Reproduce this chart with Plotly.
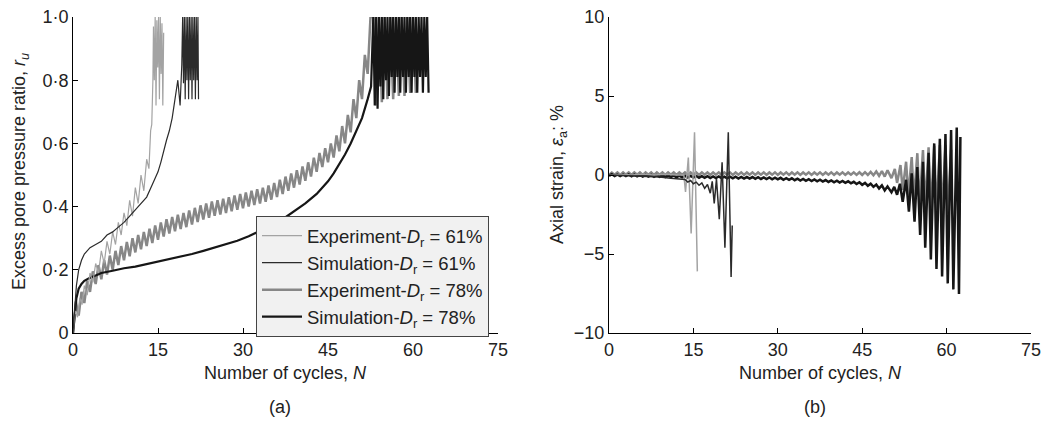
import plotly.graph_objects as go

# ---------------- Panel (a): excess pore pressure ratio ----------------
# Experiment, Dr = 61 %
a_exp61_N = [0, 0.4, 0.8, 1.2, 1.6, 2.0, 2.5, 3.0, 3.5, 4.0, 4.5, 5.0, 5.5, 6.0, 6.5, 7.0, 7.5,
             8.0, 8.5, 9.0, 9.5, 10.0, 10.5, 11.0, 11.5, 12.0, 12.5, 13.0, 13.4, 13.7, 13.9, 14.1,
             14.2, 14.35, 14.5, 14.65, 14.8, 14.95, 15.1, 15.25, 15.4, 15.55, 15.7, 15.85, 16.0]
a_exp61_ru = [0, 0.07, 0.05, 0.11, 0.09, 0.15, 0.12, 0.19, 0.16, 0.22, 0.19, 0.26, 0.22, 0.29, 0.25,
              0.32, 0.28, 0.35, 0.31, 0.38, 0.34, 0.42, 0.37, 0.46, 0.41, 0.50, 0.45, 0.55, 0.52, 0.64,
              0.66, 0.80, 0.97, 0.80, 1.0, 0.72, 0.99, 0.84, 1.0, 0.74, 1.0, 0.82, 0.98, 0.72, 0.95]

# Simulation, Dr = 61 %
a_sim61_N = [0, 0.3, 0.6, 1.0, 1.5, 2, 3, 4, 5, 6, 7, 8, 9, 10, 11, 12, 13, 14, 15, 15.5, 16, 16.5,
             17, 17.5, 18, 18.5, 18.9, 19.2, 19.35, 19.5, 19.65, 19.8, 19.95, 20.1, 20.25, 20.4,
             20.55, 20.7, 20.85, 21.0, 21.15, 21.3, 21.45, 21.6, 21.75, 21.9, 22.05, 22.15]
a_sim61_ru = [0, 0.09, 0.15, 0.20, 0.23, 0.25, 0.27, 0.28, 0.29, 0.31, 0.32, 0.335, 0.35, 0.37, 0.39,
              0.41, 0.43, 0.47, 0.51, 0.54, 0.58, 0.61, 0.64, 0.68, 0.74, 0.80, 0.72, 0.85, 1.0, 0.79,
              1.0, 0.74, 1.0, 0.80, 1.0, 0.74, 1.0, 0.80, 1.0, 0.74, 1.0, 0.80, 1.0, 0.74, 1.0, 0.80,
              1.0, 0.74]

# Experiment, Dr = 78 %  (per-cycle trough at N, crest at N + 0.5)
a_exp78_cycles = list(range(0, 53))
a_exp78_trough = [0.0, 0.055, 0.095, 0.13, 0.155, 0.17, 0.185, 0.20, 0.215, 0.23, 0.243, 0.255, 0.265,
                  0.275, 0.285, 0.295, 0.305, 0.315, 0.322, 0.329, 0.335, 0.343, 0.351, 0.359, 0.365,
                  0.371, 0.375, 0.38, 0.385, 0.39, 0.395, 0.40, 0.405, 0.41, 0.415, 0.422, 0.43, 0.44,
                  0.45, 0.46, 0.47, 0.482, 0.495, 0.51, 0.525, 0.54, 0.555, 0.575, 0.60, 0.635, 0.68,
                  0.74, 0.82]
a_exp78_crest = [0.10, 0.13, 0.165, 0.195, 0.215, 0.23, 0.245, 0.26, 0.275, 0.288, 0.30, 0.31, 0.32,
                 0.33, 0.34, 0.35, 0.36, 0.367, 0.374, 0.38, 0.388, 0.396, 0.404, 0.41, 0.416, 0.42,
                 0.425, 0.43, 0.435, 0.44, 0.445, 0.45, 0.455, 0.46, 0.467, 0.475, 0.485, 0.495, 0.505,
                 0.515, 0.527, 0.54, 0.555, 0.57, 0.585, 0.60, 0.625, 0.655, 0.69, 0.74, 0.80, 0.88,
                 1.0]
# liquefied stage of the 78 % test (peak at N, dip at N + 0.5)
a_exp78_fail_cycles = [53, 54, 55, 56, 57, 58, 59, 60]
a_exp78_fail_peak = [1.0, 1.0, 1.0, 1.0, 1.0, 1.0, 1.0, 1.0]
a_exp78_fail_dip = [0.72, 0.73, 0.74, 0.74, 0.75, 0.75, 0.76, 0.76]

# Simulation, Dr = 78 %
a_sim78_N = [0, 0.3, 0.6, 1, 1.5, 2, 3, 4, 5, 7, 9, 11, 13, 15, 17, 19, 21, 23, 25, 27, 29, 31, 33,
             35, 37, 39, 41, 43, 45, 46, 47, 48, 49, 50, 51, 52, 52.6]
a_sim78_ru = [0, 0.07, 0.11, 0.14, 0.155, 0.165, 0.175, 0.182, 0.19, 0.197, 0.205, 0.21, 0.218,
              0.225, 0.232, 0.24, 0.25, 0.26, 0.27, 0.28, 0.292, 0.306, 0.322, 0.34, 0.36, 0.385,
              0.41, 0.44, 0.48, 0.505, 0.535, 0.565, 0.60, 0.64, 0.68, 0.74, 0.78]
# liquefied stage (1.0 at N, dip1 at N+0.25, 1.0 at N+0.5, dip2 at N+0.75)
a_sim78_fail_cycles = [53, 54, 55, 56, 57, 58, 59, 60, 61, 62]
a_sim78_fail_dip1 = [0.72, 0.78, 0.80, 0.81, 0.81, 0.81, 0.81, 0.81, 0.81, 0.81]
a_sim78_fail_dip2 = [0.71, 0.74, 0.75, 0.76, 0.76, 0.76, 0.76, 0.76, 0.76, 0.76]

# ---------------- Panel (b): axial strain ----------------
b_exp61_N = [0, 2, 4, 6, 8, 10, 12, 13.3, 13.6, 14.1, 14.6, 15.2, 15.7]
b_exp61_eps = [0.0, 0.05, 0.0, 0.05, 0.0, 0.05, 0.0, 0.0, -1.07, 1.1, -3.7, 2.7, -6.1]

b_sim61_N = [0, 3, 6, 9, 11, 12, 13, 13.5, 14, 14.5, 15, 15.5, 16, 16.5, 17, 17.5, 18, 18.35,
             18.7, 19.1, 19.6, 20.1, 20.6, 21.2, 21.7, 21.9]
b_sim61_eps = [0, -0.03, -0.08, -0.12, -0.2, -0.25, -0.3, -0.28, -0.45, -0.35, -0.55, -0.45, -0.65,
               -0.5, -0.85, -0.6, -1.15, -0.4, -1.8, -0.25, -2.8, 0.8, -4.6, 2.7, -6.45, -3.2]

# Experiment 78 %: small cyclic ripple (low at N, high at N + 0.5) then growing cycles
b_exp78_cycles = list(range(0, 50))
b_exp78_low = [0.00, 0.02, 0.01, 0.02, 0.01, 0.02, 0.01, 0.02, 0.01, 0.02,
               0.01, 0.02, 0.01, 0.02, 0.01, 0.02, 0.01, 0.02, 0.01, 0.02,
               0.01, 0.02, 0.01, 0.02, 0.01, 0.02, 0.01, 0.02, 0.01, 0.02,
               0.01, 0.02, 0.01, 0.02, 0.01, 0.02, 0.01, 0.02, 0.01, 0.02,
               0.01, 0.02, 0.01, 0.02, 0.01, 0.00, 0.00, -0.02, -0.05, -0.1]
b_exp78_high = [0.15, 0.16, 0.16, 0.17, 0.16, 0.17, 0.16, 0.17, 0.16, 0.17,
                0.16, 0.17, 0.16, 0.17, 0.16, 0.17, 0.16, 0.17, 0.16, 0.17,
                0.16, 0.17, 0.16, 0.17, 0.16, 0.17, 0.16, 0.17, 0.16, 0.17,
                0.16, 0.17, 0.16, 0.17, 0.16, 0.17, 0.16, 0.17, 0.16, 0.17,
                0.16, 0.17, 0.16, 0.17, 0.17, 0.18, 0.20, 0.22, 0.25, 0.3]
b_exp78_grow_trough_N = [50.2, 51.2, 52.2, 53.2, 54.2, 55.2, 56.2, 57.2, 58.2, 59.2, 60.2]
b_exp78_grow_trough = [-0.2, -0.5, -0.95, -1.3, -1.6, -1.9, -2.1, -2.3, -2.4, -2.5, -2.5]
b_exp78_grow_peak_N = [50.8, 51.8, 52.8, 53.8, 54.8, 55.8, 56.8, 57.8, 58.8, 59.8, 60.8]
b_exp78_grow_peak = [0.38, 0.63, 0.84, 1.14, 1.38, 1.58, 1.75, 1.85, 1.9, 1.9, 1.6]

# Simulation 78 %: slow drift with ripple then growing cycles
b_sim78_cycles = list(range(0, 50))
b_sim78_low = [-0.05, -0.06, -0.07, -0.07, -0.08, -0.09, -0.10, -0.10, -0.11, -0.12,
               -0.13, -0.13, -0.14, -0.15, -0.16, -0.16, -0.17, -0.18, -0.19, -0.19,
               -0.20, -0.21, -0.21, -0.22, -0.23, -0.23, -0.24, -0.25, -0.26, -0.27,
               -0.28, -0.30, -0.31, -0.33, -0.35, -0.37, -0.38, -0.40, -0.42, -0.44,
               -0.46, -0.48, -0.50, -0.53, -0.57, -0.62, -0.68, -0.75, -0.85, -0.98]
b_sim78_high = [0.05, 0.04, 0.03, 0.03, 0.02, 0.01, 0.00, 0.00, -0.01, -0.02,
                -0.03, -0.03, -0.04, -0.05, -0.06, -0.06, -0.07, -0.08, -0.09, -0.09,
                -0.10, -0.11, -0.11, -0.12, -0.13, -0.13, -0.14, -0.15, -0.16, -0.17,
                -0.18, -0.20, -0.21, -0.23, -0.25, -0.27, -0.28, -0.30, -0.32, -0.34,
                -0.36, -0.38, -0.40, -0.43, -0.46, -0.50, -0.55, -0.60, -0.66, -0.72]
b_sim78_grow_trough_N = [50.2, 51.2, 52.2, 53.3, 54.3, 55.3, 56.2, 57.2, 58.2, 59.2, 60.2, 61.2, 62.2]
b_sim78_grow_trough = [-1.1, -1.25, -1.69, -2.32, -2.95, -3.8, -4.6, -5.34, -5.95, -6.43, -6.86, -7.24, -7.53]
b_sim78_grow_peak_N = [50.7, 51.7, 52.8, 53.8, 54.8, 55.8, 56.8, 57.8, 58.8, 59.8, 60.8, 61.8, 62.45]
b_sim78_grow_peak = [-0.75, -0.55, -0.3, 0.1, 0.5, 0.84, 1.4, 2.0, 2.3, 2.6, 2.85, 3.0, 2.4]

x_ticks = [0, 15, 30, 45, 60, 75]
a_yticks = [0, 0.2, 0.4, 0.6, 0.8, 1.0]
a_yticklabels = ["0", "0·2", "0·4", "0·6", "0·8", "1·0"]
b_yticks = [-10, -5, 0, 5, 10]
b_yticklabels = ["\u221210", "\u22125", "0", "5", "10"]

legend_names = ["Experiment-<i>D</i><sub>r</sub> = 61%", "Simulation-<i>D</i><sub>r</sub> = 61%",
                "Experiment-<i>D</i><sub>r</sub> = 78%", "Simulation-<i>D</i><sub>r</sub> = 78%"]


# ---------- helpers that only arrange the read values into a drawing path ----------
def ripple(cycles, first, second, shift=0.5):
    xs, ys = [], []
    for c, f, s in zip(cycles, first, second):
        xs += [c, c + shift]
        ys += [f, s]
    return xs, ys


def merge(ax, ay, bx, by):
    pts = sorted(list(zip(ax, ay)) + list(zip(bx, by)))
    return [p[0] for p in pts], [p[1] for p in pts]


def fail4(cycles, d1, d2):
    xs, ys = [], []
    for c, a, b in zip(cycles, d1, d2):
        xs += [c, c + 0.25, c + 0.5, c + 0.75]
        ys += [1.0, a, 1.0, b]
    return xs, ys


C_EXP61 = "#a3a3a3"
C_SIM61 = "#2b2b2b"
C_EXP78 = "#878787"
C_SIM78 = "#161616"

fig = go.Figure()

# ----- panel (a) -----
ex, ey = ripple(a_exp78_cycles, a_exp78_trough, a_exp78_crest)
fx, fy = ripple(a_exp78_fail_cycles, a_exp78_fail_peak, a_exp78_fail_dip)
fig.add_trace(go.Scatter(x=ex + fx, y=ey + fy, mode="lines", name=legend_names[2],
                         line=dict(color=C_EXP78, width=2.5), legendgroup="c", legendrank=3,
                         xaxis="x", yaxis="y"))
sx, sy = fail4(a_sim78_fail_cycles, a_sim78_fail_dip1, a_sim78_fail_dip2)
fig.add_trace(go.Scatter(x=a_sim78_N + sx, y=a_sim78_ru + sy, mode="lines", name=legend_names[3],
                         line=dict(color=C_SIM78, width=2.2), legendgroup="d", legendrank=4,
                         xaxis="x", yaxis="y"))
fig.add_trace(go.Scatter(x=a_exp61_N, y=a_exp61_ru, mode="lines", name=legend_names[0],
                         line=dict(color=C_EXP61, width=1.2), legendgroup="a", legendrank=1,
                         xaxis="x", yaxis="y"))
fig.add_trace(go.Scatter(x=a_sim61_N, y=a_sim61_ru, mode="lines", name=legend_names[1],
                         line=dict(color=C_SIM61, width=1.2), legendgroup="b", legendrank=2,
                         xaxis="x", yaxis="y"))

# ----- panel (b) -----
gx, gy = ripple(b_exp78_cycles, b_exp78_low, b_exp78_high)
hx, hy = merge(b_exp78_grow_trough_N, b_exp78_grow_trough, b_exp78_grow_peak_N, b_exp78_grow_peak)
fig.add_trace(go.Scatter(x=gx + hx, y=gy + hy, mode="lines", showlegend=False,
                         line=dict(color=C_EXP78, width=2.5), xaxis="x2", yaxis="y2"))
kx, ky = ripple(b_sim78_cycles, b_sim78_low, b_sim78_high)
mx, my = merge(b_sim78_grow_trough_N, b_sim78_grow_trough, b_sim78_grow_peak_N, b_sim78_grow_peak)
fig.add_trace(go.Scatter(x=kx + mx, y=ky + my, mode="lines", showlegend=False,
                         line=dict(color=C_SIM78, width=2.5), xaxis="x2", yaxis="y2"))
fig.add_trace(go.Scatter(x=b_exp61_N, y=b_exp61_eps, mode="lines", showlegend=False,
                         line=dict(color=C_EXP61, width=1.5), xaxis="x2", yaxis="y2"))
fig.add_trace(go.Scatter(x=b_sim61_N, y=b_sim61_eps, mode="lines", showlegend=False,
                         line=dict(color=C_SIM61, width=1.5), xaxis="x2", yaxis="y2"))

FONT = "Liberation Sans, Arial, sans-serif"
axis_common = dict(showline=True, linecolor="#000", linewidth=1, ticks="inside", ticklen=5,
                   tickcolor="#000", showgrid=False, zeroline=False, mirror=False, automargin=False,
                   ticklabeloverflow="allow",
                   tickfont=dict(family=FONT, size=18, color="#222"))

W, H = 1042, 421


def px(v):
    return v / W


def py(v):
    return (H - v) / H


fig.update_layout(
    width=W, height=H, paper_bgcolor="white", plot_bgcolor="white",
    margin=dict(l=0, r=0, t=0, b=0, autoexpand=False),
    font=dict(family=FONT, size=18, color="#222"),
    xaxis=dict(domain=[px(73), px(498)], range=[0, 75], tickvals=x_ticks, anchor="y", **axis_common),
    yaxis=dict(domain=[py(333), py(17)], range=[0, 1], tickvals=a_yticks, ticktext=a_yticklabels,
               anchor="x", **axis_common),
    xaxis2=dict(domain=[px(609), px(1031)], range=[0, 75], tickvals=x_ticks, anchor="y2", **axis_common),
    yaxis2=dict(domain=[py(333), py(17)], range=[-10, 10], tickvals=b_yticks, ticktext=b_yticklabels,
                anchor="x2", **axis_common),
    showlegend=True,
    legend=dict(x=px(256), y=py(216), xanchor="left", yanchor="top",
                bgcolor="#f1f1f1", bordercolor="#444", borderwidth=1,
                font=dict(family=FONT, size=18.5, color="#222"), tracegroupgap=0, itemwidth=40),
)

ann = [
    dict(text="Excess pore pressure ratio, <i>r<sub>u</sub></i>", x=px(20), y=py(172), textangle=-90),
    dict(text="Axial strain, <i>ε</i><sub>a</sub>: %", x=px(558), y=py(175), textangle=-90),
    dict(text="Number of cycles, <i>N</i>", x=px(285.5), y=py(373)),
    dict(text="Number of cycles, <i>N</i>", x=px(820), y=py(373)),
    dict(text="(a)", x=px(280), y=py(407)),
    dict(text="(b)", x=px(815), y=py(407)),
]
for a in ann:
    fig.add_annotation(xref="paper", yref="paper", showarrow=False, xanchor="center", yanchor="middle",
                       font=dict(family=FONT, size=18, color="#222"), **a)

# remove the default page margin so the 1042x421 figure fills the window exactly
fig.write_html("out.html", config={"displayModeBar": False},
               post_script="document.body.style.margin='0';document.body.style.overflow='hidden';")
